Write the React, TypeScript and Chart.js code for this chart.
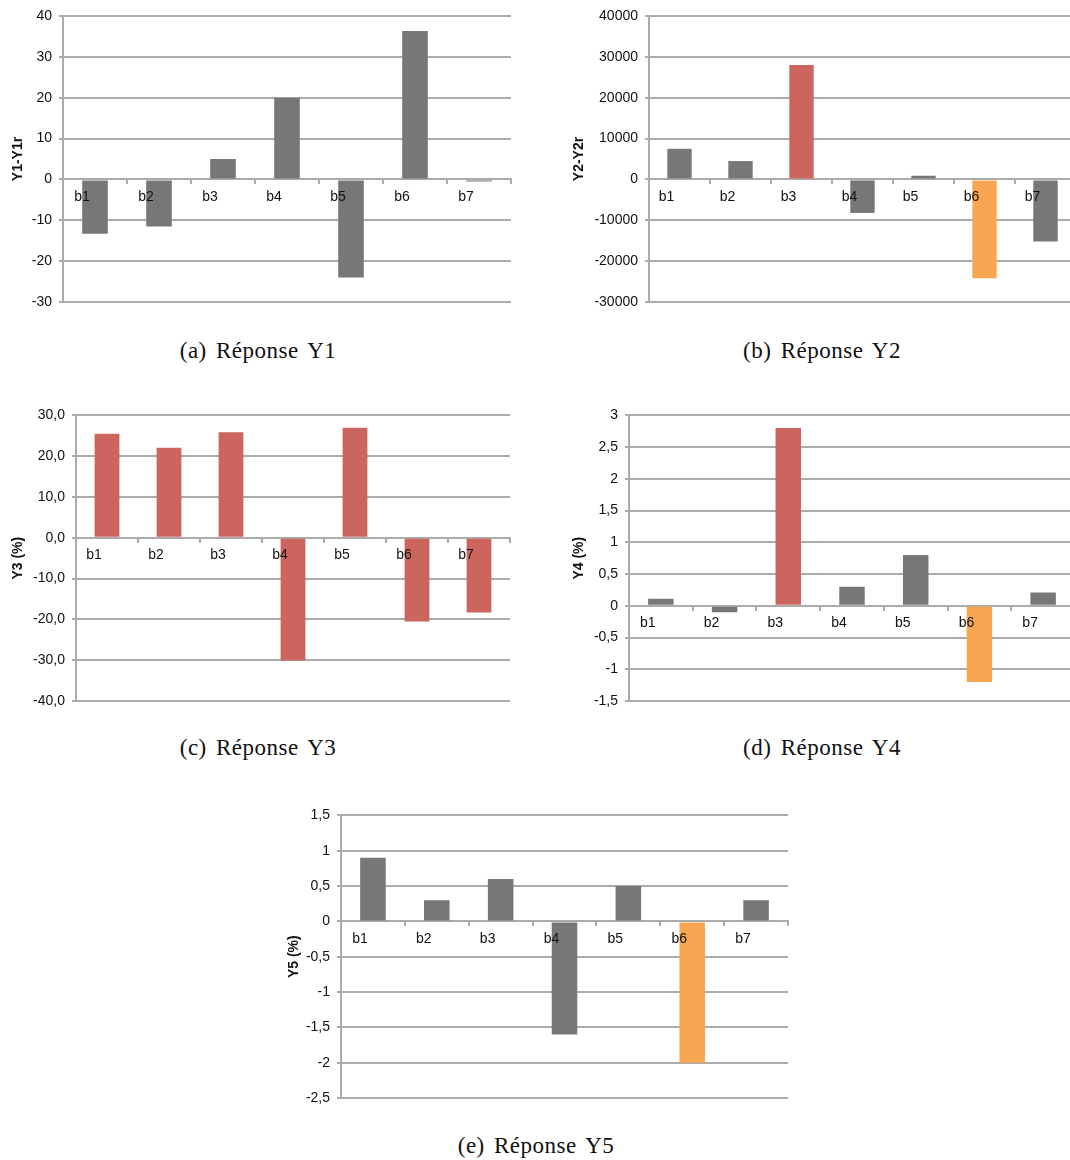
import React, { useEffect, useRef } from "react";
import { Chart, registerables } from "chart.js";

Chart.register(...registerables);

const categories = ["b1", "b2", "b3", "b4", "b5", "b6", "b7"];

const y1Values = [-13.3, -11.5, 5, 20, -24, 36.3, -0.5];
const y2Values = [7500, 4500, 28000, -8200, 900, -24200, -15200];
const y3Values = [25.5, 22.1, 25.9, -30.1, 27, -20.5, -18.3];
const y4Values = [0.11, -0.1, 2.8, 0.3, 0.8, -1.2, 0.21];
const y5Values = [0.9, 0.3, 0.6, -1.6, 0.5, -2, 0.3];

const GRAY = "#777777";
const RED = "#cd655f";
const ORANGE = "#f9a653";

const y1Colors = [GRAY, GRAY, GRAY, GRAY, GRAY, GRAY, GRAY];
const y2Colors = [GRAY, GRAY, RED, GRAY, GRAY, ORANGE, GRAY];
const y3Colors = [RED, RED, RED, RED, RED, RED, RED];
const y4Colors = [GRAY, GRAY, RED, GRAY, GRAY, ORANGE, GRAY];
const y5Colors = [GRAY, GRAY, GRAY, GRAY, GRAY, ORANGE, GRAY];

const GRID = "#ababab";
const FONT = "'Liberation Sans', Arial, Helvetica, sans-serif";

type Cfg = {
  left: number;
  top: number;
  width: number;
  height: number;
  axisWidth: number;
  pad: { top: number; bottom: number; right: number };
  titlePad: number;
  title: string;
  values: number[];
  colors: string[];
  min: number;
  max: number;
  step: number;
  fmt: (v: number) => string;
  caption: string;
  capX: number;
  capY: number;
};

const commaFmt = (v: number) => String(Math.round(v * 10) / 10).replace(".", ",");
const fixedFmt = (v: number) => (Math.round(v * 10) / 10).toFixed(1).replace(".", ",");
const intFmt = (v: number) => String(Math.round(v));

const charts: Cfg[] = [
  {
    left: 0, top: 0, width: 525, height: 320, axisWidth: 63,
    pad: { top: 16, bottom: 18, right: 14 }, titlePad: 11, title: "Y1-Y1r",
    values: y1Values, colors: y1Colors, min: -30, max: 40, step: 10, fmt: intFmt,
    caption: "(a) Réponse Y1", capX: 258, capY: 351,
  },
  {
    left: 535, top: 0, width: 545, height: 320, axisWidth: 114,
    pad: { top: 16, bottom: 18, right: 4 }, titlePad: 37, title: "Y2-Y2r",
    values: y2Values, colors: y2Colors, min: -30000, max: 40000, step: 10000, fmt: intFmt,
    caption: "(b) Réponse Y2", capX: 822, capY: 351,
  },
  {
    left: 0, top: 400, width: 525, height: 320, axisWidth: 76,
    pad: { top: 13, bottom: 19, right: 15 }, titlePad: 11, title: "Y3 (%)",
    values: y3Values, colors: y3Colors, min: -40, max: 30, step: 10, fmt: fixedFmt,
    caption: "(c) Réponse Y3", capX: 258, capY: 748,
  },
  {
    left: 535, top: 400, width: 545, height: 320, axisWidth: 94,
    pad: { top: 13, bottom: 19, right: 5 }, titlePad: 37, title: "Y4 (%)",
    values: y4Values, colors: y4Colors, min: -1.5, max: 3, step: 0.5, fmt: commaFmt,
    caption: "(d) Réponse Y4", capX: 822, capY: 748,
  },
  {
    left: 260, top: 800, width: 540, height: 320, axisWidth: 81,
    pad: { top: 12, bottom: 22, right: 12 }, titlePad: 27, title: "Y5 (%)",
    values: y5Values, colors: y5Colors, min: -2.5, max: 1.5, step: 0.5, fmt: commaFmt,
    caption: "(e) Réponse Y5", capX: 536, capY: 1146,
  },
];

function BarPanel({ cfg }: { cfg: Cfg }) {
  const ref = useRef<HTMLCanvasElement | null>(null);
  useEffect(() => {
    if (!ref.current) return;
    const chart = new Chart(ref.current, {
      type: "bar",
      data: {
        labels: categories,
        datasets: [
          {
            data: cfg.values,
            backgroundColor: cfg.colors,
            borderWidth: 0,
            barPercentage: 0.4,
            categoryPercentage: 1,
          },
        ],
      },
      options: {
        animation: false,
        responsive: false,
        events: [],
        layout: { padding: { left: 0, top: cfg.pad.top, bottom: cfg.pad.bottom, right: cfg.pad.right } },
        plugins: { legend: { display: false }, tooltip: { enabled: false }, title: { display: false } },
        scales: {
          x: {
            position: { y: 0 } as any,
            offset: true,
            grid: { display: true, drawOnChartArea: false, drawTicks: true, tickLength: 4, color: GRID, lineWidth: 2, offset: true },
            border: { display: true, color: GRID, width: 2 },
            ticks: {
              z: 1,
              color: "#111",
              font: { family: FONT, size: 14 },
              padding: 5,
              labelOffset: -13,
              maxRotation: 0,
              autoSkip: false,
            } as any,
          },
          y: {
            min: cfg.min,
            max: cfg.max,
            afterFit: (scale: any) => {
              scale.width = cfg.axisWidth;
            },
            grid: { color: GRID, lineWidth: 2, drawTicks: true, tickLength: 4 },
            border: { display: true, color: GRID, width: 2 },
            ticks: {
              stepSize: cfg.step,
              color: "#111",
              font: { family: FONT, size: 14 },
              padding: 7,
              callback: (v: any) => cfg.fmt(Number(v)),
            },
            title: {
              display: true,
              text: cfg.title,
              color: "#111",
              font: { family: FONT, size: 14, weight: "bold" },
              padding: { top: cfg.titlePad - 1, bottom: 0 },
            },
          },
        },
      },
    });
    return () => chart.destroy();
  }, [cfg]);
  return (
    <canvas
      ref={ref}
      width={cfg.width}
      height={cfg.height}
      style={{ position: "absolute", left: cfg.left, top: cfg.top, width: cfg.width, height: cfg.height }}
    />
  );
}

export default function App() {
  return (
    <div
      style={{
        position: "absolute",
        left: 0,
        top: 0,
        width: 1070,
        height: 1160,
        overflow: "hidden",
        background: "#fff",
      }}
    >
      {charts.map((c, i) => (
        <BarPanel key={i} cfg={c} />
      ))}
      {charts.map((c, i) => (
        <div
          key={"cap" + i}
          style={{
            position: "absolute",
            left: c.capX - 150,
            width: 300,
            top: c.capY - 15,
            height: 30,
            lineHeight: "30px",
            textAlign: "center",
            fontFamily: "'Liberation Serif', 'Times New Roman', serif",
            fontSize: 23,
            letterSpacing: 0.5,
            wordSpacing: 3,
            color: "#111",
          }}
        >
          {c.caption}
        </div>
      ))}
    </div>
  );
}
